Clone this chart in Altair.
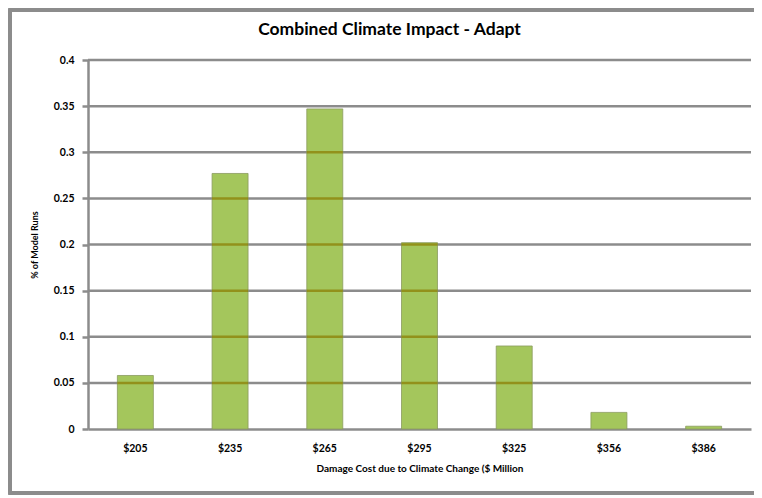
import altair as alt
import pandas as pd

categories = ["$205", "$235", "$265", "$295", "$325", "$356", "$386"]
values = [0.058, 0.277, 0.347, 0.202, 0.090, 0.018, 0.003]
tick_values = [0.05, 0.1, 0.15, 0.2, 0.25, 0.3, 0.35, 0.4]
title_text = ["Combined Climate Impact - Adapt"]

df = pd.DataFrame({"cat": categories, "val": values})
grid_df = pd.DataFrame({"t": tick_values})
cross = df.merge(grid_df, how="cross")
cross = cross[cross["t"] < cross["val"]]

FONT = "Lato"
W, H = 663, 369

x_enc = alt.X("cat:N", sort=categories, title="Damage Cost due to Climate Change ($ Million",
              scale=alt.Scale(paddingInner=0.62, paddingOuter=0.31),
              axis=alt.Axis(labelAngle=0, labelFont=FONT, labelFontWeight="bold", labelFontSize=10.5,
                            labelColor="#000", labelPadding=14, ticks=False, domainColor="#8c8c8c",
                            domainWidth=2.5, titleFont=FONT, titleFontWeight="bold",
                            titleFontSize=10, titleColor="#000", titlePadding=10))

y_scale = alt.Scale(domain=[0, 0.4])

grid = alt.Chart(grid_df).mark_rule(color="#8c8c8c", strokeWidth=2.5).encode(
    y=alt.Y("t:Q", scale=y_scale), x=alt.value(0), x2=alt.value(W)
)

bars = alt.Chart(df).mark_bar(color="#a4c65c", stroke="#8a9a60", strokeWidth=0.8).encode(
    x=x_enc,
    y=alt.Y("val:Q", scale=y_scale, title="% of Model Runs",
            axis=alt.Axis(values=tick_values + [0], format="~g", labelFont=FONT, labelFontWeight="bold",
                          labelFontSize=10.5, labelColor="#000", grid=False, domainColor="#8c8c8c",
                          domainWidth=2.5, tickColor="#8c8c8c", tickWidth=2.5, tickSize=6,
                          labelPadding=8, titleFont=FONT, titleFontWeight="bold",
                          titleFontSize=9, titleColor="#000", titlePadding=14)),
)

overlap = alt.Chart(cross).mark_tick(color="#8a7a00", thickness=2.5, orient="horizontal").encode(
    x=alt.X("cat:N", sort=categories),
    y=alt.Y("t:Q", scale=y_scale),
    size=alt.value(36),
)

border = alt.Chart(df).mark_rect(fill=None, stroke="#8c8c8c", strokeWidth=3, clip=False).encode(
    x=alt.value(-78), x2=alt.value(W + 5), y=alt.value(-50), y2=alt.value(H + 64)
)

title = alt.Chart(pd.DataFrame({"t": title_text})).mark_text(
    font=FONT, fontSize=17.5, fontWeight="bold", color="#000", baseline="middle", align="center"
).encode(text="t:N", x=alt.value(W / 2 - 30), y=alt.value(-30))

chart = alt.layer(grid, bars, overlap, border, title).properties(
    width=W, height=H,
    autosize=alt.AutoSizeParams(type="none"),
    padding={"left": 80, "top": 52, "right": 3, "bottom": 67},
).configure_view(stroke=None)

chart.save("out.html", embed_options={"renderer": "svg", "actions": False})
